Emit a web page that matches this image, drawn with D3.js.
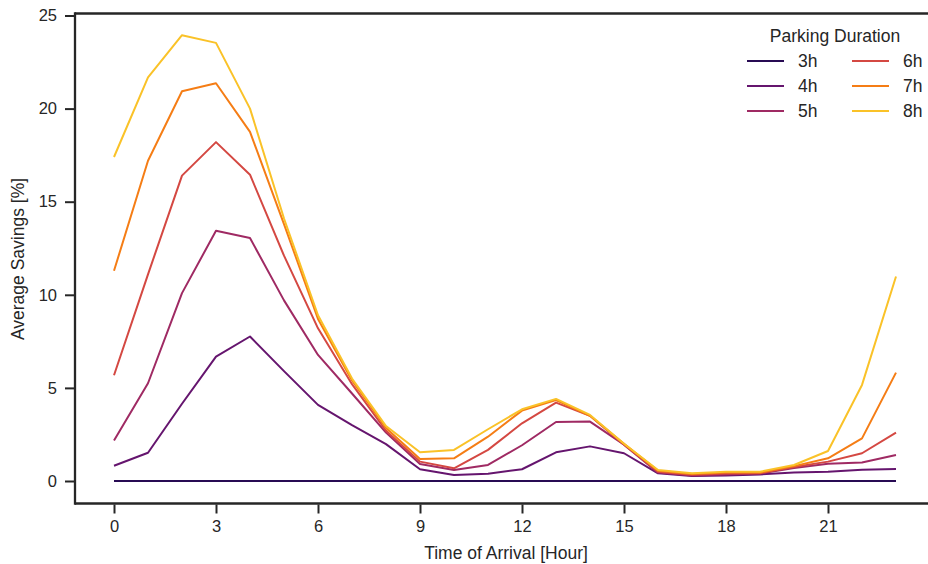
<!DOCTYPE html>
<html><head><meta charset="utf-8">
<script src="https://cdn.jsdelivr.net/npm/d3@7"></script>
<style>body{margin:0;background:#fff}svg{display:block;font-family:"Liberation Sans",Arial,sans-serif}</style>
</head><body><svg id="c" width="928" height="564"></svg>
<script>
const hours = d3.range(0, 24);
const seriesNames = ["3h","4h","5h","6h","7h","8h"];
const colors = ["#280b53","#65156e","#9f2a63","#d44842","#f57d15","#fac228"];
const s3h = [0,0,0,0,0,0,0,0,0,0,0,0,0,0,0,0,0,0,0,0,0,0,0,0];
const s4h = [0.82,1.52,4.15,6.68,7.76,5.9,4.09,3.0,1.98,0.63,0.32,0.39,0.63,1.54,1.86,1.49,0.41,0.27,0.3,0.35,0.45,0.5,0.6,0.65];
const s5h = [2.17,5.25,10.09,13.44,13.05,9.7,6.77,4.7,2.6,0.91,0.59,0.86,1.92,3.17,3.19,1.95,0.45,0.3,0.35,0.4,0.7,0.93,0.99,1.4];
const s6h = [5.68,11.1,16.4,18.2,16.45,12.1,8.2,5.2,2.7,1.04,0.68,1.67,3.1,4.21,3.5,1.95,0.5,0.33,0.4,0.42,0.75,1.04,1.49,2.6];
const s7h = [11.29,17.2,20.93,21.36,18.75,13.8,8.7,5.4,2.85,1.18,1.22,2.38,3.78,4.35,3.5,2.0,0.55,0.37,0.45,0.45,0.8,1.22,2.29,5.82];
const s8h = [17.4,21.68,23.94,23.53,20.0,14.1,8.9,5.5,2.95,1.54,1.67,2.78,3.85,4.41,3.55,2.0,0.59,0.41,0.5,0.5,0.86,1.61,5.16,10.98];
const xTicks = [0,3,6,9,12,15,18,21];
const yTicks = [0,5,10,15,20,25];
const allSeries = [s3h,s4h,s5h,s6h,s7h,s8h];

(function(){
const svg = d3.select("#c");
const x = d3.scaleLinear().domain([0,23]).range([114,896]);
const y = d3.scaleLinear().domain([0,25]).range([481,15.5]);
const pL = 75, pT = 13.5, pB = 503.5, pR = 940;
const ink = "#262626";
const sw = 2.3;

svg.append("line").attr("x1",pL).attr("x2",pL).attr("y1",pT-sw/2).attr("y2",pB+sw/2).attr("stroke",ink).attr("stroke-width",sw);
svg.append("line").attr("x1",pL).attr("x2",pR).attr("y1",pB).attr("y2",pB).attr("stroke",ink).attr("stroke-width",sw);
svg.append("line").attr("x1",pL).attr("x2",pR).attr("y1",pT).attr("y2",pT).attr("stroke",ink).attr("stroke-width",sw);

const xAxis = svg.append("g").attr("transform",`translate(0,${pB+1})`)
  .call(d3.axisBottom(x).tickValues(xTicks).tickSize(9).tickPadding(7));
const yAxis = svg.append("g").attr("transform",`translate(${pL-1},0)`)
  .call(d3.axisLeft(y).tickValues(yTicks).tickSize(9).tickPadding(8));
[xAxis,yAxis].forEach(g=>{
  g.select(".domain").remove();
  g.selectAll(".tick line").attr("stroke",ink).attr("stroke-width",2);
  g.selectAll(".tick text").attr("fill",ink).style("font-size","16.5px").style("font-family","'Liberation Sans',Arial,sans-serif");
});

const line = d3.line().x((d,i)=>x(hours[i])).y(d=>y(d));
allSeries.forEach((s,i)=>{
  svg.append("path").datum(s).attr("d",line).attr("fill","none")
    .attr("stroke",colors[i]).attr("stroke-width",2).attr("stroke-linejoin","round");
});

svg.append("text").attr("x",506).attr("y",559).attr("text-anchor","middle")
  .attr("fill",ink).style("font-size","17.5px").text("Time of Arrival [Hour]");
svg.append("text").attr("transform","translate(24,259) rotate(-90)").attr("text-anchor","middle")
  .attr("fill",ink).style("font-size","17.5px").text("Average Savings [%]");

const lg = svg.append("g");
lg.append("text").attr("x",835).attr("y",42).attr("text-anchor","middle").attr("fill",ink)
  .style("font-size","17.5px").text("Parking Duration");
seriesNames.forEach((n,i)=>{
  const col = Math.floor(i/3), row = i%3;
  const lx = 747 + col*105, ly = 61 + row*25;
  lg.append("line").attr("x1",lx).attr("x2",lx+37).attr("y1",ly).attr("y2",ly)
    .attr("stroke",colors[i]).attr("stroke-width",2.2);
  lg.append("text").attr("x",lx+51).attr("y",ly+6).attr("fill",ink).style("font-size","17.5px").text(n);
});
})();
</script></body></html>
